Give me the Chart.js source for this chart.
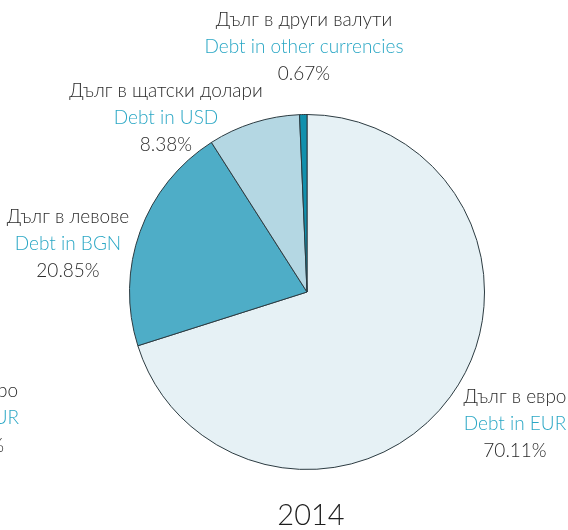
<!DOCTYPE html>
<html>
<head>
<meta charset="utf-8">
<script src="https://cdn.jsdelivr.net/npm/chart.js@4.4.1/dist/chart.umd.min.js"></script>
<style>
  html, body { margin: 0; padding: 0; background: #fff; }
  #wrap { position: relative; width: 568px; height: 530px; }
</style>
</head>
<body>
<div id="wrap"><canvas id="debtPie" width="568" height="530"></canvas></div>
<script>
// Debt structure by currency, 2014
const year = '2014';
const labelsBg = ['Дълг в евро', 'Дълг в левове', 'Дълг в щатски долари', 'Дълг в други валути'];
const labelsEn = ['Debt in EUR', 'Debt in BGN', 'Debt in USD', 'Debt in other currencies'];
const shares = [70.11, 20.85, 8.38, 0.67];

const sliceColors = ['#e6f1f5', '#4eadc7', '#b4d7e3', '#1190ad'];
const FONT = '"Lato", "Noto Sans", sans-serif';
const DARK = '#2b2b2b';
const TEAL = '#2aa7c5';

// where each slice's caption block is centred (first line)
const captionAt = [
  { x: 515, y: 397 },
  { x: 68, y: 217 },
  { x: 166, y: 91 },
  { x: 304, y: 20 },
];

const captions = {
  id: 'captions',
  afterDraw(chart) {
    const ctx = chart.ctx;
    ctx.save();
    ctx.textBaseline = 'middle';
    ctx.textAlign = 'center';
    const lh = 27;
    shares.forEach((v, i) => {
      const p = captionAt[i];
      ctx.font = `300 19px ${FONT}`;
      ctx.fillStyle = DARK;
      ctx.fillText(labelsBg[i], p.x, p.y);
      ctx.fillStyle = TEAL;
      ctx.fillText(labelsEn[i], p.x, p.y + lh);
      ctx.fillStyle = DARK;
      ctx.fillText(v.toFixed(2) + '%', p.x, p.y + lh * 2);
    });

    // caption of the neighbouring panel, running off the left edge
    ctx.textAlign = 'right';
    ctx.font = `300 19px ${FONT}`;
    ctx.fillStyle = DARK;
    ctx.fillText(labelsBg[0], 18, 391);
    ctx.fillStyle = TEAL;
    ctx.fillText(labelsEn[0], 19, 418);
    ctx.fillStyle = DARK;
    ctx.fillText('%', 4, 446);

    ctx.textAlign = 'center';
    ctx.font = `300 29px ${FONT}`;
    ctx.fillStyle = '#1e1e1e';
    ctx.fillText(year, 311, 516);
    ctx.restore();
  }
};

new Chart(document.getElementById('debtPie'), {
  type: 'pie',
  data: {
    labels: labelsEn,
    datasets: [{
      data: shares,
      backgroundColor: sliceColors,
      borderColor: '#2c3b41',
      borderWidth: 1,
    }],
  },
  options: {
    responsive: false,
    animation: false,
    layout: { padding: { left: 129, right: 83, top: 114, bottom: 60 } },
    plugins: {
      legend: { display: false },
      tooltip: { enabled: false },
    },
  },
  plugins: [captions],
});
</script>
</body>
</html>
